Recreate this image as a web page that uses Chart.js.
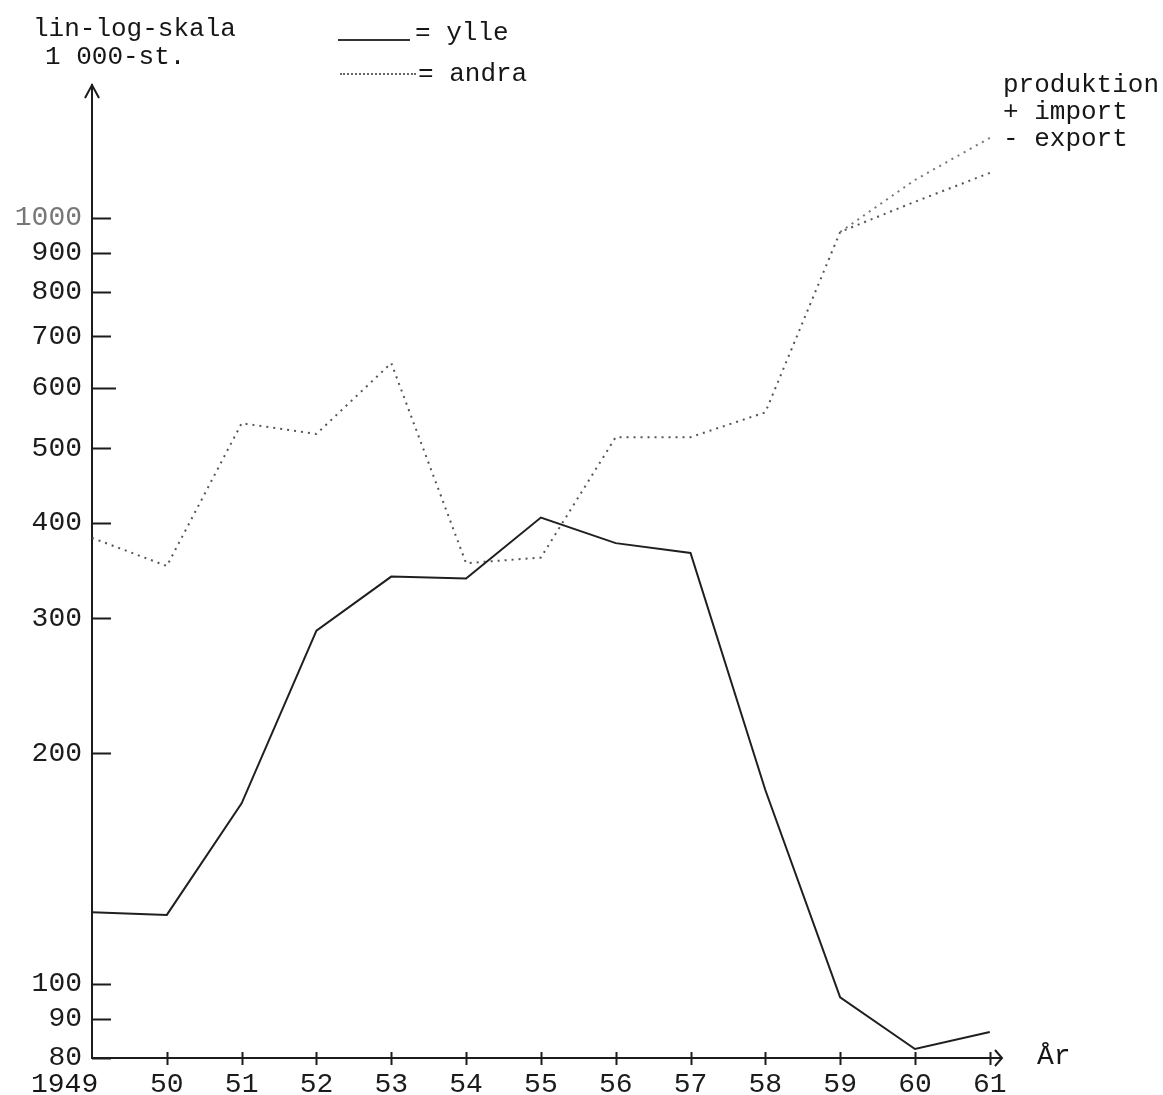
<!DOCTYPE html>
<html>
<head>
<meta charset="utf-8">
<script src="https://cdn.jsdelivr.net/npm/chart.js@4/dist/chart.umd.min.js"></script>
<style>
  body { margin: 0; background: #fff; }
  #wrap { position: relative; width: 1163px; height: 1095px; overflow: hidden; }
  #chart { position: absolute; left: 0; top: 0; }
  .txt { position: absolute; font-family: "Liberation Mono", monospace; font-size: 26px; line-height: 1; color: #161616; white-space: pre; }
  .key { position: absolute; height: 0; }
</style>
</head>
<body>
<div id="wrap">
  <canvas id="chart" width="1163" height="1095"></canvas>
  <div class="txt" style="left:33px; top:16px;">lin-log-skala</div>
  <div class="txt" style="left:45px; top:44px;">1 000-st.</div>
  <div class="key" style="left:338px; top:39px; width:72px; border-top:2px solid #333;"></div>
  <div class="txt" style="left:415px; top:20px;">= ylle</div>
  <div class="key" style="left:340px; top:73px; width:76px; border-top:2px dotted #666;"></div>
  <div class="txt" style="left:418px; top:61px;">= andra</div>
  <div class="txt" style="left:1003px; top:72px;">produktion</div>
  <div class="txt" style="left:1003px; top:99px;">+ import</div>
  <div class="txt" style="left:1003px; top:126px;">- export</div>
  <div class="txt" style="left:1037px; top:1043px; font-size:28px;">År</div>
  <div class="txt" style="left:31px; top:1071px; font-size:28px;">1949</div>
</div>
<script>
// years on the x axis
var years = [1949, 1950, 1951, 1952, 1953, 1954, 1955, 1956, 1957, 1958, 1959, 1960, 1961];
// 1 000 st.
var ylle = [124, 123, 172, 289, 340, 338, 406, 376, 365, 179, 96, 82.2, 86.5];
var andra = [382, 351, 539, 522, 646, 354, 360, 517, 517, 557, 958, 1049, 1144];
// second dotted branch after 1959
var andraYears2 = [1959, 1960, 1961];
var andra2 = [958, 1120, 1271];
// y axis tick values
var yTicks = [80, 90, 100, 200, 300, 400, 500, 600, 700, 800, 900, 1000];

var ink = '#1c1c1c';
var font = { family: 'Liberation Mono', size: 28 };

function pts(xs, ys) {
    return xs.map(function (x, i) { return { x: x, y: ys[i] }; });
}

var inkPlugin = {
    id: 'ink',
    afterDraw: function (chart) {
        var ctx = chart.ctx;
        var a = chart.chartArea;
        var xs = chart.scales.x, ys = chart.scales.y;
        ctx.save();
        ctx.strokeStyle = ink;
        ctx.lineWidth = 2;
        ctx.beginPath();
        // short ticks on the inside of the y axis
        yTicks.forEach(function (v) {
            var py = Math.round(ys.getPixelForValue(v)) + 0.5;
            ctx.moveTo(a.left, py);
            ctx.lineTo(a.left + (v === 600 ? 24 : 19), py);
        });
        // small marks on the year axis
        years.slice(1).forEach(function (v) {
            var px = Math.round(xs.getPixelForValue(v)) + 0.5;
            ctx.moveTo(px, a.bottom - 6);
            ctx.lineTo(px, a.bottom + 7);
        });
        // arrow heads
        ctx.moveTo(a.left - 7, a.top + 13);
        ctx.lineTo(a.left, a.top);
        ctx.lineTo(a.left + 7, a.top + 13);
        ctx.moveTo(a.right - 6, a.bottom - 8);
        ctx.lineTo(a.right + 1, a.bottom);
        ctx.lineTo(a.right - 6, a.bottom + 8);
        ctx.stroke();
        ctx.restore();
    }
};

new Chart(document.getElementById('chart'), {
    type: 'line',
    data: {
        datasets: [{
            label: 'ylle',
            data: pts(years, ylle),
            borderColor: '#1f1f1f',
            borderWidth: 2,
            pointRadius: 0,
            tension: 0
        }, {
            label: 'andra',
            data: pts(years, andra),
            borderColor: '#555',
            borderWidth: 2,
            borderDash: [2, 5],
            pointRadius: 0,
            tension: 0
        }, {
            label: 'andra',
            data: pts(andraYears2, andra2),
            borderColor: '#777',
            borderWidth: 2,
            borderDash: [2, 5],
            pointRadius: 0,
            tension: 0
        }]
    },
    options: {
        responsive: false,
        animation: false,
        layout: { padding: { top: 85, right: 162, left: 0, bottom: 0 } },
        plugins: { legend: { display: false }, tooltip: { enabled: false } },
        scales: {
            x: {
                type: 'linear',
                min: 1949,
                max: 1961.15,
                afterBuildTicks: function (s) { s.ticks = years.map(function (v) { return { value: v }; }); },
                afterFit: function (s) { s.height = 37; },
                grid: { display: false, drawTicks: false },
                border: { display: true, color: ink, width: 2 },
                ticks: {
                    font: font,
                    color: ink,
                    padding: 10,
                    autoSkip: false,
                    maxRotation: 0,
                    callback: function (v) { return v === 1949 ? '' : String(v).slice(2); }
                }
            },
            y: {
                type: 'logarithmic',
                min: 80,
                max: 1490,
                afterBuildTicks: function (s) { s.ticks = yTicks.map(function (v) { return { value: v }; }); },
                afterFit: function (s) { s.width = 92; },
                grid: { display: false, drawTicks: false },
                border: { display: true, color: ink, width: 2 },
                ticks: {
                    font: font,
                    padding: 10,
                    color: function (c) { return c.tick && c.tick.value === 1000 ? '#777' : ink; },
                    callback: function (v) { return String(v); }
                }
            }
        }
    },
    plugins: [inkPlugin]
});
</script>
</body>
</html>
